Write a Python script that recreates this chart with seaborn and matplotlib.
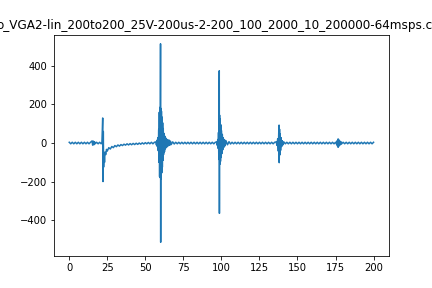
import matplotlib
matplotlib.use("Agg")
import matplotlib.pyplot as plt
import seaborn as sns
import pandas as pd

title = "o_VGA2-lin_200to200_25V-200us-2-200_100_2000_10_200000-64msps.csv"

# baseline before first echo
t_a = [0, 1, 2, 3, 4, 5, 6, 7, 8, 9, 10, 11, 12, 13, 14, 15.0, 15.4, 15.8,
       16.2, 16.6, 17, 18, 19, 20, 21, 21.5]
v_a = [4, -4, 4, -4, 4, -4, 4, -4, 4, -4, 4, -4, 4, -4, 4, 11, -11, 10,
       -9, 7, -4, 4, -4, 4, -4, 4]

# transmit spike at ~22 with decaying negative offset
t_b = [22.0, 22.2, 22.4, 22.6, 22.9, 23.2, 23.5, 24.0, 24.5, 25.0, 26.0, 27.0,
       28.0, 29.0, 30.0, 31.0, 32.0, 33.0, 34.0, 35.0, 36.0, 37.0, 38.0, 39.0,
       40.0, 41.0, 42.0, 43.0, 44.0, 45.0, 46.0, 47.0, 48.0, 49.0, 50.0, 51.0,
       52.0, 53.0, 54.0, 55.0, 56.0]
v_b = [130, -200, 60, -125, -55, -100, -47, -60, -33, -42, -24, -31,
       -18, -24, -13, -19, -10, -16, -8, -13, -6, -11, -4, -10,
       -3, -9, -2, -8, -1, -7, 0, -6, 1, -5, 2, -4,
       3, -4, 4, -4, 4]

# large echo at ~60
t_c = [57.0, 57.3, 57.6, 57.9, 58.2, 58.5, 58.8, 59.0, 59.2, 59.4, 59.6, 59.8,
       60.0, 60.1, 60.2, 60.4, 60.6, 60.8, 61.0, 61.2, 61.4, 61.6, 61.8, 62.0,
       62.3, 62.6, 62.9, 63.2, 63.6, 64.0, 64.5, 65.0, 65.5, 66.0, 66.5, 67.0,
       68.0, 69.0]
v_c = [6, -10, 14, -18, 28, -40, 70, -100, 160, -175, 185, -180,
       515, -515, 180, -185, 165, -155, 135, -125, 105, -90, 75, -60,
       50, -45, 35, -30, 25, -22, 18, -15, 16, -12, 10, -8,
       6, -5]

# baseline
t_d = [70, 71, 72, 73, 74, 75, 76, 77, 78, 79, 80, 81, 82, 83, 84, 85, 86,
       87, 88, 89, 90, 91, 92, 93, 94, 95, 96]
v_d = [4, -4, 4, -4, 4, -4, 4, -4, 4, -4, 4, -4, 4, -4, 4, -4, 4,
       -4, 4, -4, 4, -4, 4, -4, 4, -4, 4]

# echo at ~99
t_e = [97.0, 97.3, 97.6, 97.9, 98.1, 98.3, 98.5, 98.6, 98.7, 98.8, 99.0, 99.2,
       99.4, 99.6, 99.8, 100.0, 100.3, 100.6, 100.9, 101.2, 101.6, 102.0, 102.5,
       103.0, 104.0, 105.0, 106.0]
v_e = [6, -12, 18, -28, 55, -85, 155, 375, -365, 145, -110, 125,
       -95, 95, -75, 65, -55, 45, -35, 28, -22, 18, -14,
       12, -9, 7, -5]

# baseline
t_f = [107, 108, 109, 110, 111, 112, 113, 114, 115, 116, 117, 118, 119, 120,
       121, 122, 123, 124, 125, 126, 127, 128, 129, 130, 131, 132, 133, 134,
       135]
v_f = [4, -4, 4, -4, 4, -4, 4, -4, 4, -4, 4, -4, 4, -4,
       4, -4, 4, -4, 4, -4, 4, -4, 4, -4, 4, -4, 4, -4,
       4]

# echo at ~138
t_g = [136.0, 136.5, 137.0, 137.4, 137.7, 137.9, 138.0, 138.2, 138.4, 138.6,
       138.9, 139.2, 139.6, 140.0, 140.5, 141.0]
v_g = [6, -12, 22, -42, 62, 93, -102, 72, -62, 48,
       -38, 28, -18, 12, -9, 6]

# baseline
t_h = [142, 143, 144, 145, 146, 147, 148, 149, 150, 151, 152, 153, 154, 155,
       156, 157, 158, 159, 160, 161, 162, 163, 164, 165, 166, 167, 168, 169,
       170, 171, 172, 173, 174, 175]
v_h = [-4, 4, -4, 4, -4, 4, -4, 4, -4, 4, -4, 4, -4, 4,
       -4, 4, -4, 4, -4, 4, -4, 4, -4, 4, -4, 4, -4, 4,
       -4, 4, -4, 4, -4, 4]

# echo at ~177
t_i = [175.8, 176.1, 176.3, 176.5, 176.7, 176.9, 177.1, 177.3, 177.6, 177.9,
       178.3, 178.7]
v_i = [-8, 12, -16, 20, -22, 20, -17, 14, -12, 10, -8, 6]

# baseline to end
t_j = [179, 180, 181, 182, 183, 184, 185, 186, 187, 188, 189, 190, 191, 192,
       193, 194, 195, 196, 197, 198, 199, 200]
v_j = [-4, 4, -4, 4, -4, 4, -4, 4, -4, 4, -4, 4, -4, 4,
       -4, 4, -4, 4, -4, 4, -4, 4]

time = t_a + t_b + t_c + t_d + t_e + t_f + t_g + t_h + t_i + t_j
value = v_a + v_b + v_c + v_d + v_e + v_f + v_g + v_h + v_i + v_j
df = pd.DataFrame({"t": time, "v": value})

fig, ax = plt.subplots(figsize=(6, 4), dpi=72)
sns.lineplot(data=df, x="t", y="v", ax=ax, estimator=None, sort=False,
             color="#1f77b4", linewidth=1.5)
ax.set_xlabel("")
ax.set_ylabel("")
ax.set_title(title)
ax.set_xticks([0, 25, 50, 75, 100, 125, 150, 175, 200])
ax.set_yticks([-400, -200, 0, 200, 400])
ax.set_xlim(-10, 210)
ax.set_ylim(-588, 563)
fig.savefig("out.png", dpi=72)
